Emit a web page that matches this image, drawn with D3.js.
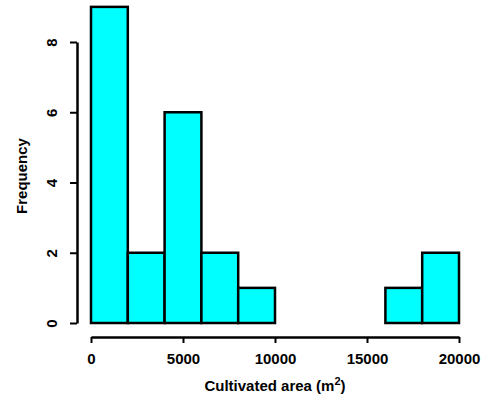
<!DOCTYPE html>
<html><head><meta charset="utf-8">
<script src="https://cdn.jsdelivr.net/npm/d3@7"></script>
<style>body{margin:0;background:#fff}svg text{font-family:"Liberation Sans",Arial,sans-serif;font-weight:bold}</style>
</head><body>
<svg id="c" width="482" height="400"></svg>
<script>
const binStarts = [0,2000,4000,6000,8000,10000,12000,14000,16000,18000];
const binWidth = 2000;
const counts = [9,2,6,2,1,0,0,0,1,2];
const xTicks = [0,5000,10000,15000,20000];
const yTicks = [0,2,4,6,8];

const svg = d3.select("#c");
const x = d3.scaleLinear().domain([0,20000]).range([91,459]);
const y = d3.scaleLinear().domain([0,8]).range([323,42]);

svg.append("g").selectAll("rect").data(counts).join("rect")
  .attr("x",(d,i)=>x(binStarts[i]))
  .attr("y",d=>y(d))
  .attr("width",(d,i)=>x(binStarts[i]+binWidth)-x(binStarts[i]))
  .attr("height",d=>y(0)-y(d))
  .attr("fill","#00ffff").attr("stroke","#000").attr("stroke-width",2.5);

const xa = svg.append("g").attr("transform","translate(0,337)")
  .call(d3.axisBottom(x).tickValues(xTicks).tickSize(6).tickPadding(10).tickSizeOuter(0).tickFormat(d3.format("d")));
xa.select(".domain").attr("stroke-width",2.5);
xa.selectAll(".tick line").attr("stroke-width",2);
xa.selectAll("text").attr("font-size",15).attr("fill","#000");

const ya = svg.append("g").attr("transform","translate(77,0)")
  .call(d3.axisLeft(y).tickValues(yTicks).tickSize(7).tickSizeOuter(0));
ya.select(".domain").attr("stroke-width",2.5);
ya.selectAll(".tick line").attr("stroke-width",2);
ya.selectAll("text").attr("font-size",15).attr("fill","#000")
  .attr("x",null).attr("dy",null).attr("text-anchor","middle")
  .attr("transform","translate(-20,0) rotate(-90)");

const t = svg.append("text").attr("x",275).attr("y",391).attr("text-anchor","middle").attr("font-size",15).attr("fill","#000");
t.append("tspan").text("Cultivated area (m");
t.append("tspan").attr("dy",-6).attr("font-size",11).text("2");
t.append("tspan").attr("dy",6).text(")");

svg.append("text").attr("transform","translate(27,176) rotate(-90)").attr("text-anchor","middle")
  .attr("font-size",15).attr("fill","#000").text("Frequency");
</script>
</body></html>
